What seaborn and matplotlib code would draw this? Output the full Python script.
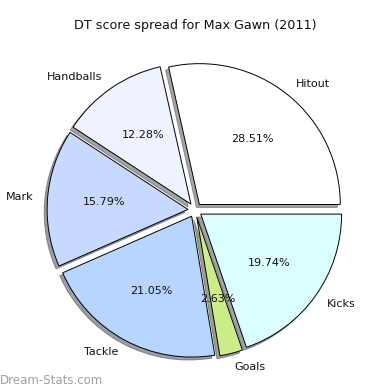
import matplotlib
matplotlib.use("Agg")
import matplotlib.pyplot as plt
import seaborn as sns

sns.set_style("white")
plt.rcParams['font.family'] = ['DejaVu Sans']

categories = ["Hitout", "Handballs", "Mark", "Tackle", "Goals", "Kicks"]
values = [28.51, 12.28, 15.79, 21.05, 2.63, 19.74]
colors = ["#ffffff", "#eef3ff", "#c8d9ff", "#b7d5ff", "#ccec8a", "#dbffff"]
title = "DT score spread for Max Gawn (2011)"
watermark = "Dream-Stats.com"

fig = plt.figure(figsize=(3.9, 3.9), dpi=100)
ax = fig.add_axes([0.0485, 0.01, 0.903, 0.903])
wedges, texts, autotexts = ax.pie(
    values, labels=categories, colors=colors, explode=[0.05] * len(values),
    autopct="%.2f%%", shadow=dict(ox=-0.015, oy=-0.015), startangle=0,
    wedgeprops=dict(edgecolor="black", linewidth=0.7),
    textprops=dict(fontsize=8, color="#111111"))
ax.set_aspect("equal")
fig.text(0.5, 0.935, title, ha="center", va="center", fontsize=9.2, color="#111111")
fig.text(0.0, 0.025, watermark, ha="left", va="center", fontsize=8.5, color="#a0a0a0")
fig.savefig("out.png", dpi=100)
